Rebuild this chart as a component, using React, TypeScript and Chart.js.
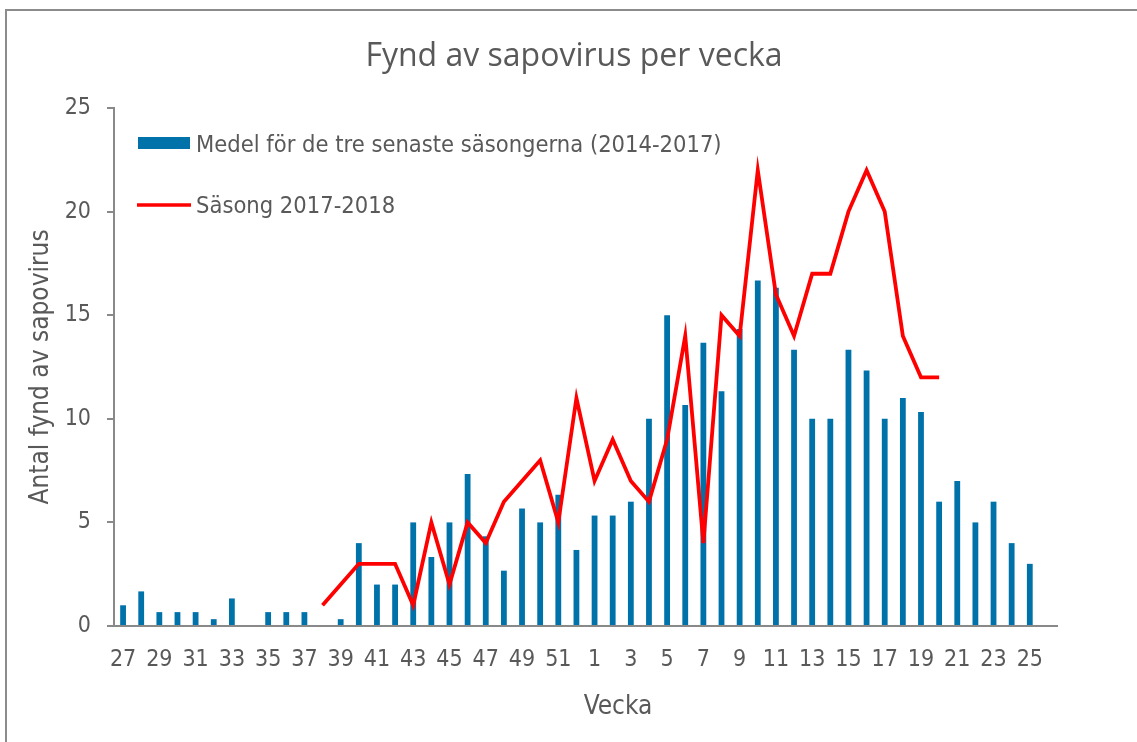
import React, { useEffect, useRef } from 'react';
import { Chart, registerables } from 'chart.js';

Chart.register(...registerables);

// ---- data ----
const weeks = [
  '27', '28', '29', '30', '31', '32', '33', '34', '35', '36', '37', '38', '39',
  '40', '41', '42', '43', '44', '45', '46', '47', '48', '49', '50', '51', '52',
  '1', '2', '3', '4', '5', '6', '7', '8', '9', '10', '11', '12', '13',
  '14', '15', '16', '17', '18', '19', '20', '21', '22', '23', '24', '25', '26',
];

const avgPrevSeasons = [
  1, 1.67, 0.67, 0.67, 0.67, 0.33, 1.33, 0, 0.67, 0.67, 0.67, 0, 0.33,
  4, 2, 2, 5, 3.33, 5, 7.33, 4.33, 2.67, 5.67, 5, 6.33, 3.67,
  5.33, 5.33, 6, 10, 15, 10.67, 13.67, 11.33, 14.33, 16.67, 16.33, 13.33, 10,
  10, 13.33, 12.33, 10, 11, 10.33, 6, 7, 5, 6, 4, 3, null,
];

const season2017 = [
  null, null, null, null, null, null, null, null, null, null, null, 1, 2,
  3, 3, 3, 1, 5, 2, 5, 4, 6, 7, 8, 5, 11,
  7, 9, 7, 6, 9, 14, 4, 15, 14, 22, 16, 14, 17,
  17, 20, 22, 20, 14, 12, 12, null, null, null, null, null, null,
];

const yTickValues = [0, 5, 10, 15, 20, 25];

const chartTitle = 'Fynd av sapovirus per vecka';
const xTitle = 'Vecka';
const yTitle = 'Antal fynd av sapovirus';
const barLabel = 'Medel för de tre senaste säsongerna (2014-2017)';
const lineLabel = 'Säsong 2017-2018';

// ---- styles ----
const TEXT = '#595959';
const AXIS = '#898989';
const BAR = '#0072aa';
const LINE = '#ff0000';
const FONT = '"DejaVu Sans Condensed", "Liberation Sans", sans-serif';

const overlayPlugin = {
  id: 'overlay',
  afterDraw(chart: any) {
    const ctx = chart.ctx as CanvasRenderingContext2D;
    const ca = chart.chartArea;
    const ds = chart.data.datasets;
    ctx.save();
    // title
    ctx.fillStyle = TEXT;
    ctx.textAlign = 'center';
    ctx.textBaseline = 'alphabetic';
    ctx.font = '32px "Open Sans"';
    ctx.fillText(chartTitle, 574, 66);
    // x title
    ctx.font = `26px ${FONT}`;
    ctx.fillText(xTitle, 618, 714);
    // legend
    const lx = ca.left + 24;
    ctx.fillStyle = ds[0].backgroundColor;
    ctx.fillRect(lx, ca.top + 29, 52, 12);
    ctx.strokeStyle = ds[1].borderColor;
    ctx.lineWidth = 3.5;
    ctx.beginPath();
    ctx.moveTo(lx - 1, ca.top + 97);
    ctx.lineTo(lx + 53, ca.top + 97);
    ctx.stroke();
    ctx.fillStyle = TEXT;
    ctx.textAlign = 'left';
    ctx.font = `23.5px ${FONT}`;
    ctx.fillText(ds[0].label, lx + 58, ca.top + 44);
    ctx.fillText(ds[1].label, lx + 58, ca.top + 105);
    ctx.restore();
  },
};

export default function App() {
  const ref = useRef<HTMLCanvasElement>(null);

  useEffect(() => {
    if (!ref.current) return;
    const chart = new Chart(ref.current, {
      type: 'bar',
      data: {
        labels: weeks,
        datasets: [
          {
            type: 'bar',
            label: barLabel,
            data: avgPrevSeasons,
            backgroundColor: BAR,
            barPercentage: 0.32,
            categoryPercentage: 1,
            order: 1,
          } as any,
          {
            type: 'line',
            label: lineLabel,
            data: season2017,
            borderColor: LINE,
            backgroundColor: LINE,
            borderWidth: 3.8,
            pointRadius: 0,
            tension: 0,
            spanGaps: false,
            order: 0,
          } as any,
        ],
      },
      options: {
        responsive: false,
        animation: false,
        devicePixelRatio: 1,
        layout: { padding: { top: 108, right: 80, bottom: 0, left: 0 } },
        plugins: {
          legend: { display: false },
          title: { display: false },
          tooltip: { enabled: false },
        },
        scales: {
          x: {
            offset: true,
            grid: { display: false },
            border: { display: true, color: AXIS, width: 2 },
            ticks: {
              autoSkip: false,
              maxRotation: 0,
              padding: 12,
              color: TEXT,
              font: { family: FONT, size: 23 },
              callback: (_v: any, i: number) => (i % 2 === 0 ? weeks[i] : ''),
            },
            afterFit: (scale: any) => {
              scale.height = 116;
            },
          },
          y: {
            min: 0,
            max: 25,
            afterBuildTicks: (scale: any) => {
              scale.ticks = yTickValues.map((v) => ({ value: v }));
            },
            grid: {
              drawOnChartArea: false,
              drawTicks: true,
              tickLength: 7,
              color: AXIS,
              lineWidth: 2,
            },
            border: { display: true, color: AXIS, width: 2 },
            ticks: {
              padding: 16,
              color: TEXT,
              font: { family: FONT, size: 23 },
            },
            title: {
              display: true,
              text: yTitle,
              color: TEXT,
              font: { family: FONT, size: 26 },
              padding: { top: 26, bottom: 0 },
            },
            afterFit: (scale: any) => {
              scale.width = 114;
            },
          },
        },
      },
      plugins: [overlayPlugin],
    });
    return () => chart.destroy();
  }, []);

  return (
    <div style={{ position: 'fixed', left: 0, top: 0, width: 1137, height: 742, background: '#fff', overflow: 'hidden' }}>
      <div
        style={{
          position: 'absolute',
          left: 5,
          top: 9,
          width: 1200,
          height: 800,
          border: '2px solid #8c8c8c',
          boxSizing: 'border-box',
        }}
      />
      <canvas ref={ref} width={1137} height={742} style={{ position: 'absolute', left: 0, top: 0, display: 'block' }} />
    </div>
  );
}
